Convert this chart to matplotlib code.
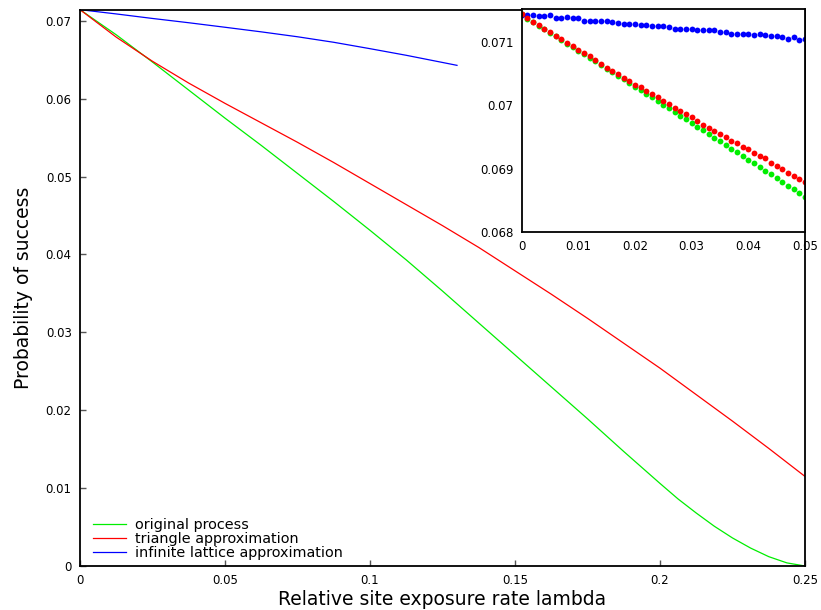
import matplotlib
matplotlib.use("Agg")
import matplotlib.pyplot as plt

# ---- main plot data ----
lam = [0, 0.0125, 0.025, 0.0375, 0.05, 0.0625, 0.075, 0.0875, 0.1, 0.1125,
       0.125, 0.1375, 0.15, 0.1625, 0.175, 0.1875, 0.2, 0.20625, 0.2125, 0.21875,
       0.225, 0.23125, 0.2375, 0.24375, 0.25]
original = [0.07143, 0.0682, 0.0647, 0.0611, 0.0575, 0.0540, 0.0504, 0.0468, 0.0431,
            0.0393, 0.0353, 0.0312, 0.0271, 0.0230, 0.0189, 0.0147, 0.0106, 0.0086,
            0.0068, 0.0051, 0.0036, 0.0023, 0.0012, 0.0004, 0.0]
lam_tri = [0, 0.0125, 0.025, 0.0375, 0.05, 0.0625, 0.075, 0.0875, 0.1, 0.1125,
           0.125, 0.1375, 0.15, 0.1625, 0.175, 0.1875, 0.2, 0.2125, 0.225, 0.2375, 0.25]
triangle = [0.07143, 0.0679, 0.0648, 0.0620, 0.0594, 0.0569, 0.0544, 0.0518, 0.0491,
            0.0464, 0.0437, 0.0409, 0.0379, 0.0349, 0.0318, 0.0286, 0.0254, 0.0220,
            0.0186, 0.0151, 0.0115]
lam_inf = [0, 0.0125, 0.025, 0.0375, 0.05, 0.0625, 0.075, 0.0875, 0.1, 0.1125, 0.125, 0.13]
infinite = [0.07143, 0.07088, 0.07030, 0.06975, 0.06917, 0.06858, 0.06795, 0.06724,
            0.06642, 0.06557, 0.06465, 0.06428]

# ---- inset data ----
inset_x = [i / 1000 for i in range(51)]
inset_original = [0.071433, 0.071365, 0.071312, 0.071254, 0.071197, 0.071144, 0.071086,
                  0.071028, 0.070971, 0.070918, 0.070860, 0.070802, 0.070750, 0.070692,
                  0.070634, 0.070576, 0.070524, 0.070461, 0.070408, 0.070350, 0.070292,
                  0.070234, 0.070177, 0.070124, 0.070066, 0.070008, 0.069951, 0.069893,
                  0.069835, 0.069777, 0.069719, 0.069661, 0.069604, 0.069546, 0.069488,
                  0.069430, 0.069372, 0.069314, 0.069257, 0.069199, 0.069141, 0.069083,
                  0.069025, 0.068967, 0.068910, 0.068852, 0.068789, 0.068731, 0.068673,
                  0.068615, 0.068557]
inset_triangle = [0.071433, 0.071370, 0.071318, 0.071265, 0.071197, 0.071149, 0.071091,
                  0.071044, 0.070976, 0.070934, 0.070871, 0.070818, 0.070776, 0.070713,
                  0.070645, 0.070592, 0.070545, 0.070487, 0.070424, 0.070382, 0.070319,
                  0.070282, 0.070229, 0.070177, 0.070124, 0.070072, 0.070014, 0.069961,
                  0.069909, 0.069861, 0.069809, 0.069756, 0.069688, 0.069646, 0.069593,
                  0.069546, 0.069504, 0.069441, 0.069399, 0.069346, 0.069309, 0.069251,
                  0.069199, 0.069162, 0.069083, 0.069046, 0.068988, 0.068936, 0.068889,
                  0.068836, 0.068794]
inset_infinite = [0.07143, 0.07142, 0.07142, 0.07141, 0.07140, 0.07142, 0.07137, 0.07138,
                  0.07139, 0.07137, 0.07137, 0.07133, 0.07133, 0.07133, 0.07133, 0.07133,
                  0.07132, 0.07129, 0.07128, 0.07128, 0.07128, 0.07126, 0.07126, 0.07125,
                  0.07125, 0.07125, 0.07123, 0.07121, 0.07121, 0.07120, 0.07120, 0.07119,
                  0.07118, 0.07119, 0.07118, 0.07116, 0.07115, 0.07113, 0.07113, 0.07112,
                  0.07112, 0.07111, 0.07112, 0.07111, 0.07109, 0.07109, 0.07108, 0.07105,
                  0.07107, 0.07103, 0.07105]

main_xticks = [0, 0.05, 0.1, 0.15, 0.2, 0.25]
main_xlabels = ["0", "0.05", "0.1", "0.15", "0.2", "0.25"]
main_yticks = [0, 0.01, 0.02, 0.03, 0.04, 0.05, 0.06, 0.07]
main_ylabels = ["0", "0.01", "0.02", "0.03", "0.04", "0.05", "0.06", "0.07"]
inset_xticks = [0, 0.01, 0.02, 0.03, 0.04, 0.05]
inset_xlabels = ["0", "0.01", "0.02", "0.03", "0.04", "0.05"]
inset_yticks = [0.068, 0.069, 0.07, 0.071]
inset_ylabels = ["0.068", "0.069", "0.07", "0.071"]

plt.rcParams['font.family'] = ['DejaVu Sans']

fig = plt.figure(figsize=(8.21, 6.10), dpi=100)
W, H = 821, 610
ax = fig.add_axes([80 / W, 1 - 566 / H, (805 - 80) / W, (566 - 9.5) / H])

GREEN = "#00ee00"
RED = "#ff0000"
BLUE = "#0000ff"

ax.plot(lam, original, color=GREEN, lw=0.9, label="original process")
ax.plot(lam_tri, triangle, color=RED, lw=0.9, label="triangle approximation")
ax.plot(lam_inf, infinite, color=BLUE, lw=0.9, label="infinite lattice approximation")

ax.set_xlim(0, 0.25)
ax.set_ylim(0, 0.07145)
ax.set_xticks(main_xticks)
ax.set_xticklabels(main_xlabels)
ax.set_yticks(main_yticks)
ax.set_yticklabels(main_ylabels)
ax.tick_params(direction="in", length=4, width=1, color="#555555", labelsize=8.5, pad=6)
for s in ax.spines.values():
    s.set_linewidth(1.3)
ax.set_xlabel("Relative site exposure rate lambda", fontsize=13.5, labelpad=2)
ax.set_ylabel("Probability of success", fontsize=13.5, labelpad=9)

leg = ax.legend(loc="lower left", bbox_to_anchor=(0.0, -0.012), frameon=False, fontsize=10.4,
                handlelength=2.3, handletextpad=0.6, labelspacing=0.0, borderaxespad=0.5)

# ---- inset ----
ins = fig.add_axes([521.7 / W, 1 - 232 / H, (805 - 521.7) / W, (232 - 9.3) / H])
ins.set_facecolor("white")
ms = 4.2
ins.plot(inset_x, inset_original, 'o', color=GREEN, ms=ms, mew=0)
ins.plot(inset_x, inset_infinite, 'o', color=BLUE, ms=ms, mew=0)
ins.plot(inset_x, inset_triangle, 'o', color=RED, ms=ms, mew=0)
ins.set_xlim(0, 0.05)
ins.set_ylim(0.068, 0.071513)
ins.set_xticks(inset_xticks)
ins.set_xticklabels(inset_xlabels)
ins.set_yticks(inset_yticks)
ins.set_yticklabels(inset_ylabels)
ins.tick_params(direction="in", length=0, labelsize=8.5, pad=6)
for s in ins.spines.values():
    s.set_linewidth(1.3)

fig.savefig("out.png", dpi=100)
